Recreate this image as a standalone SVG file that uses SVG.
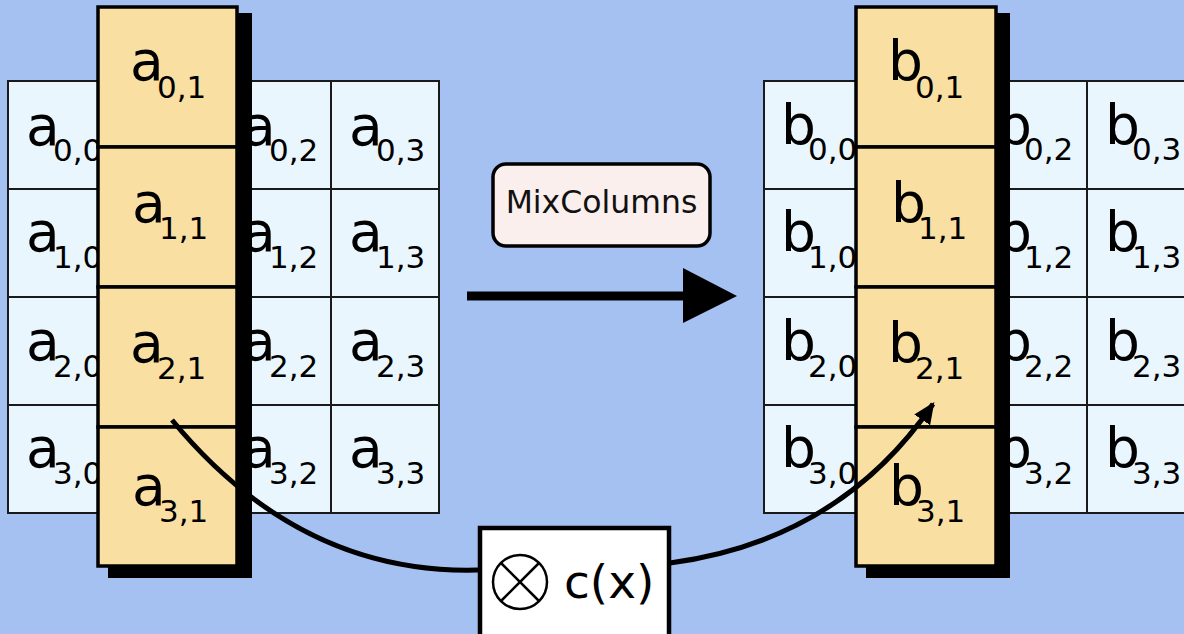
<svg xmlns="http://www.w3.org/2000/svg" width="1184" height="634" viewBox="0 0 1184 634">
<style>
.cell{fill:#eaf6fd;stroke:#1a1a1a;stroke-width:2}
.ocell{fill:#fadfa2;stroke:#000;stroke-width:3.5}
.shadow{fill:#000}
.t{font-family:"DejaVu Sans",sans-serif;font-size:55px;fill:#000}
.s{font-size:31px}
.conn{fill:none;stroke:#000}
</style>
<defs>
<marker id="ah" markerUnits="userSpaceOnUse" markerWidth="24" markerHeight="24" viewBox="0 0 20 20" refX="16" refY="10" orient="auto">
<path d="M0,2 L18,10 L0,18 Z" fill="#000"/>
</marker>
</defs>
<rect width="1184" height="634" fill="#a4c1f2"/>

<g id="stateA">
<g id="gridA">
<rect class="cell" x="8" y="81" width="108" height="108"/><rect class="cell" x="116" y="81" width="108" height="108"/><rect class="cell" x="224" y="81" width="107" height="108"/><rect class="cell" x="331" y="81" width="108" height="108"/>
<rect class="cell" x="8" y="189" width="108" height="108"/><rect class="cell" x="116" y="189" width="108" height="108"/><rect class="cell" x="224" y="189" width="107" height="108"/><rect class="cell" x="331" y="189" width="108" height="108"/>
<rect class="cell" x="8" y="297" width="108" height="108"/><rect class="cell" x="116" y="297" width="108" height="108"/><rect class="cell" x="224" y="297" width="107" height="108"/><rect class="cell" x="331" y="297" width="108" height="108"/>
<rect class="cell" x="8" y="405" width="108" height="108"/><rect class="cell" x="116" y="405" width="108" height="108"/><rect class="cell" x="224" y="405" width="107" height="108"/><rect class="cell" x="331" y="405" width="108" height="108"/>
<text class="t" x="26" y="145">a<tspan class="s" x="53" y="161">0,0</tspan></text>
<text class="t" x="242" y="145">a<tspan class="s" x="269" y="161">0,2</tspan></text>
<text class="t" x="349" y="145">a<tspan class="s" x="376" y="161">0,3</tspan></text>
<text class="t" x="26" y="251">a<tspan class="s" x="53" y="268">1,0</tspan></text>
<text class="t" x="242" y="251">a<tspan class="s" x="269" y="268">1,2</tspan></text>
<text class="t" x="349" y="251">a<tspan class="s" x="376" y="268">1,3</tspan></text>
<text class="t" x="26" y="360">a<tspan class="s" x="53" y="377">2,0</tspan></text>
<text class="t" x="242" y="360">a<tspan class="s" x="269" y="377">2,2</tspan></text>
<text class="t" x="349" y="360">a<tspan class="s" x="376" y="377">2,3</tspan></text>
<text class="t" x="26" y="467">a<tspan class="s" x="53" y="484">3,0</tspan></text>
<text class="t" x="242" y="467">a<tspan class="s" x="269" y="484">3,2</tspan></text>
<text class="t" x="349" y="467">a<tspan class="s" x="376" y="484">3,3</tspan></text>
</g>
<g id="colA">
<rect class="shadow" x="108" y="13" width="144" height="565"/>
<rect class="ocell" x="98" y="7" width="139" height="140"/>
<rect class="ocell" x="98" y="147" width="139" height="140"/>
<rect class="ocell" x="98" y="287" width="139" height="140"/>
<rect class="ocell" x="98" y="427" width="139" height="139"/>
<text class="t" x="130" y="80">a<tspan class="s" x="157" y="98">0,1</tspan></text>
<text class="t" x="132" y="222">a<tspan class="s" x="159" y="239">1,1</tspan></text>
<text class="t" x="130" y="362">a<tspan class="s" x="157" y="379">2,1</tspan></text>
<text class="t" x="132" y="505">a<tspan class="s" x="159" y="522">3,1</tspan></text>
</g>
</g>

<g id="stateB">
<g id="gridB">
<rect class="cell" x="764" y="81" width="108" height="108"/><rect class="cell" x="872" y="81" width="108" height="108"/><rect class="cell" x="980" y="81" width="107" height="108"/><rect class="cell" x="1087" y="81" width="108" height="108"/>
<rect class="cell" x="764" y="189" width="108" height="108"/><rect class="cell" x="872" y="189" width="108" height="108"/><rect class="cell" x="980" y="189" width="107" height="108"/><rect class="cell" x="1087" y="189" width="108" height="108"/>
<rect class="cell" x="764" y="297" width="108" height="108"/><rect class="cell" x="872" y="297" width="108" height="108"/><rect class="cell" x="980" y="297" width="107" height="108"/><rect class="cell" x="1087" y="297" width="108" height="108"/>
<rect class="cell" x="764" y="405" width="108" height="108"/><rect class="cell" x="872" y="405" width="108" height="108"/><rect class="cell" x="980" y="405" width="107" height="108"/><rect class="cell" x="1087" y="405" width="108" height="108"/>
<text class="t" x="781" y="144">b<tspan class="s" x="808" y="160">0,0</tspan></text>
<text class="t" x="997" y="144">b<tspan class="s" x="1024" y="160">0,2</tspan></text>
<text class="t" x="1105" y="144">b<tspan class="s" x="1132" y="160">0,3</tspan></text>
<text class="t" x="781" y="251">b<tspan class="s" x="808" y="268">1,0</tspan></text>
<text class="t" x="997" y="251">b<tspan class="s" x="1024" y="268">1,2</tspan></text>
<text class="t" x="1105" y="251">b<tspan class="s" x="1132" y="268">1,3</tspan></text>
<text class="t" x="781" y="360">b<tspan class="s" x="808" y="377">2,0</tspan></text>
<text class="t" x="997" y="360">b<tspan class="s" x="1024" y="377">2,2</tspan></text>
<text class="t" x="1105" y="360">b<tspan class="s" x="1132" y="377">2,3</tspan></text>
<text class="t" x="781" y="467">b<tspan class="s" x="808" y="484">3,0</tspan></text>
<text class="t" x="997" y="467">b<tspan class="s" x="1024" y="484">3,2</tspan></text>
<text class="t" x="1105" y="467">b<tspan class="s" x="1132" y="484">3,3</tspan></text>
</g>
<g id="colB">
<rect class="shadow" x="866" y="13" width="144" height="565"/>
<rect class="ocell" x="856" y="7" width="140" height="140"/>
<rect class="ocell" x="856" y="147" width="140" height="140"/>
<rect class="ocell" x="856" y="287" width="140" height="140"/>
<rect class="ocell" x="856" y="427" width="140" height="139"/>
<text class="t" x="888" y="80">b<tspan class="s" x="915" y="98">0,1</tspan></text>
<text class="t" x="891" y="222">b<tspan class="s" x="918" y="239">1,1</tspan></text>
<text class="t" x="888" y="362">b<tspan class="s" x="915" y="379">2,1</tspan></text>
<text class="t" x="889" y="505">b<tspan class="s" x="916" y="522">3,1</tspan></text>
</g>
</g>

<g id="connectors">
<path class="conn" d="M467,296 L686,296" stroke-width="9"/>
<path d="M683,268 L737,296 L683,323 Z" fill="#000"/>
<path class="conn" d="M172,420 Q300,575 478,570 L670,563 Q840,540 933,404" stroke-width="5" marker-end="url(#ah)"/>
</g>

<g id="mixcolumns">
<rect x="493" y="164" width="217" height="82" rx="13" fill="#fbefee" stroke="#000" stroke-width="3.5"/>
<text x="601.5" y="213" text-anchor="middle" font-family="DejaVu Sans, sans-serif" font-size="31.5" fill="#111">MixColumns</text>
</g>

<g id="cx">
<rect x="480" y="528" width="189" height="120" fill="#fff" stroke="#000" stroke-width="4.5"/>
<circle cx="520" cy="582" r="27" fill="none" stroke="#000" stroke-width="2.5"/>
<path d="M501,563 L539,601 M539,563 L501,601" stroke="#000" stroke-width="2.5"/>
<text x="564" y="598" font-family="DejaVu Sans, sans-serif" font-size="47" fill="#000">c(x)</text>
</g>
</svg>
